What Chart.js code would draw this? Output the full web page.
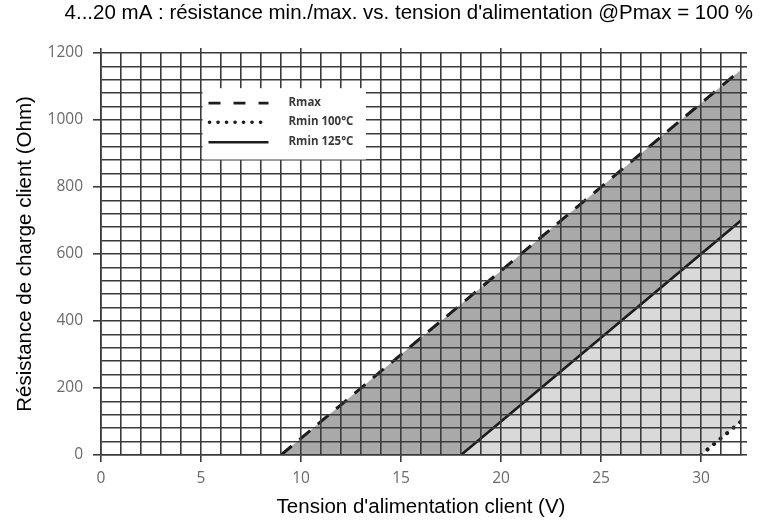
<!DOCTYPE html>
<html>
<head>
<meta charset="utf-8">
<script src="https://cdn.jsdelivr.net/npm/chart.js@4/dist/chart.umd.min.js"></script>
<style>
  html, body { margin: 0; padding: 0; background: #fff; }
  #wrap { width: 760px; height: 522px; }
</style>
</head>
<body>
<div id="wrap"><canvas id="myChart" width="760" height="522"></canvas></div>
<script>
'use strict';
// values
let rmaxVolts = [9, 32];
let rmaxOhms = [0, 1150];
let rmin125Volts = [18, 32];
let rmin125Ohms = [0, 700];
let rmin100Volts = [30, 32];
let rmin100Ohms = [0, 100];
let legendNames = ['Rmax', 'Rmin 100°C', 'Rmin 125°C'];

let titleText = "4...20 mA : résistance min./max. vs. tension d'alimentation @Pmax = 100 %";
let xTitle = "Tension d'alimentation client (V)";
let yTitle = 'Résistance de charge client (Ohm)';

let gridColor = '#3b3b3b';
let lineColor = '#1c1c1c';
let darkFill = '#a9a9a9';
let lightFill = '#d9d9d9';

function toPoints(xs, ys) {
    let pts = [];
    for (let i = 0; i < xs.length; i++) {
        pts.push({ x: xs[i], y: ys[i] });
    }
    return pts;
}

// lower edges of the grey bands (lines cut at 0 Ohm)
let lower125 = [{ x: rmaxVolts[0], y: 0 }].concat(toPoints(rmin125Volts, rmin125Ohms));
let lower100 = [{ x: rmin125Volts[0], y: 0 }].concat(toPoints(rmin100Volts, rmin100Ohms));

let majorTick = function (c) {
    return c.tick && c.tick.value % 5 === 0 ? gridColor : 'rgba(0,0,0,0)';
};
let majorTickY = function (c) {
    return c.tick && c.tick.value % 200 === 0 ? gridColor : 'rgba(0,0,0,0)';
};

let boxLegend = {
    id: 'boxLegend',
    afterDraw(chart) {
        let ctx = chart.ctx;
        let x = chart.scales.x;
        let y = chart.scales.y;
        let left = x.getPixelForValue(5) + 1.5;
        let right = x.getPixelForValue(13.25);
        let top = y.getPixelForValue(1095);
        let bottom = y.getPixelForValue(882);
        ctx.save();
        ctx.fillStyle = '#ffffff';
        ctx.fillRect(left, top, right - left, bottom - top);

        let rows = [top + 15, top + 34, top + 54];
        let x1 = left + 6;
        let x2 = left + 66;
        ctx.strokeStyle = lineColor;

        // Rmax dashed
        ctx.lineWidth = 2.8;
        ctx.setLineDash([12, 13]);
        ctx.beginPath(); ctx.moveTo(x1, rows[0]); ctx.lineTo(x2, rows[0]); ctx.stroke();
        // Rmin 100 dotted
        ctx.lineWidth = 3.6;
        ctx.lineCap = 'round';
        ctx.setLineDash([0.1, 8.4]);
        ctx.beginPath(); ctx.moveTo(x1 + 1, rows[1]); ctx.lineTo(x2, rows[1]); ctx.stroke();
        // Rmin 125 solid
        ctx.lineCap = 'butt';
        ctx.lineWidth = 2.6;
        ctx.setLineDash([]);
        ctx.beginPath(); ctx.moveTo(x1, rows[2]); ctx.lineTo(x2, rows[2]); ctx.stroke();

        ctx.fillStyle = '#3a3a3a';
        ctx.font = '700 11.5px "Open Sans"';
        ctx.textBaseline = 'middle';
        ctx.textAlign = 'left';
        for (let i = 0; i < legendNames.length; i++) {
            ctx.fillText(legendNames[i], left + 86, rows[i]);
        }
        ctx.restore();
    }
};

let ctx = document.getElementById('myChart').getContext('2d');
let myChart = new Chart(ctx, {
    type: 'scatter',
    data: {
        datasets: [{
            label: 'Rmax',
            data: toPoints(rmaxVolts, rmaxOhms),
            showLine: true,
            borderColor: lineColor,
            borderWidth: 3,
            borderDash: [14, 10],
            backgroundColor: darkFill,
            fill: 1,
            pointRadius: 0
        }, {
            label: 'lower125',
            data: lower125,
            showLine: true,
            borderWidth: 0,
            borderColor: 'rgba(0,0,0,0)',
            fill: false,
            pointRadius: 0
        }, {
            label: 'Rmin 125°C',
            data: toPoints(rmin125Volts, rmin125Ohms),
            showLine: true,
            borderColor: lineColor,
            borderWidth: 2.6,
            backgroundColor: lightFill,
            fill: 3,
            pointRadius: 0
        }, {
            label: 'lower100',
            data: lower100,
            showLine: true,
            borderWidth: 0,
            borderColor: 'rgba(0,0,0,0)',
            fill: false,
            pointRadius: 0
        }, {
            label: 'Rmin 100°C',
            data: toPoints(rmin100Volts, rmin100Ohms),
            showLine: true,
            borderColor: lineColor,
            borderWidth: 4,
            borderDash: [0.1, 8.4],
            borderCapStyle: 'round',
            fill: false,
            pointRadius: 0
        }]
    },
    options: {
        responsive: false,
        animation: false,
        events: [],
        layout: { padding: { left: 0, right: 7, top: 0, bottom: 0 } },
        plugins: {
            legend: { display: false },
            tooltip: { enabled: false },
            filler: { drawTime: 'beforeDatasetsDraw' },
            title: {
                display: true,
                text: titleText,
                align: 'end',
                color: '#000',
                font: { family: '"Liberation Sans", Arial, sans-serif', size: 20.5, weight: 'normal' },
                padding: { top: 1.5, bottom: 21.9 }
            }
        },
        scales: {
            x: {
                type: 'linear',
                position: 'bottom',
                min: 0,
                max: 32,
                afterFit(s) { s.height = 67; },
                ticks: {
                    stepSize: 1,
                    autoSkip: false,
                    maxRotation: 0,
                    padding: 7,
                    color: '#6a6a6a',
                    font: { family: '"Open Sans"', size: 15.5 },
                    callback: function (v) { return v % 5 === 0 ? v : ''; }
                },
                grid: { z: 1, color: gridColor, lineWidth: 1.6, tickLength: 7, tickColor: majorTick },
                border: { z: 1, color: gridColor, width: 1.6 },
                title: {
                    display: true,
                    text: xTitle,
                    color: '#000',
                    font: { family: '"Liberation Sans", Arial, sans-serif', size: 20.5 },
                    padding: { top: 0, bottom: 2 }
                }
            },
            xTop: {
                type: 'linear',
                position: 'top',
                min: 0,
                max: 32,
                ticks: { display: false, stepSize: 1, autoSkip: false },
                grid: { drawOnChartArea: false, lineWidth: 1.6, tickLength: 5, tickColor: majorTick },
                border: { display: false }
            },
            y: {
                type: 'linear',
                min: 0,
                max: 1200,
                afterFit(s) { s.width = 101; },
                ticks: {
                    stepSize: 40,
                    autoSkip: false,
                    padding: 10,
                    color: '#6a6a6a',
                    font: { family: '"Open Sans"', size: 15.5 },
                    callback: function (v) { return v % 200 === 0 ? v : ''; }
                },
                grid: { z: 1, color: gridColor, lineWidth: 1.6, tickLength: 8, tickColor: majorTickY },
                border: { z: 1, color: gridColor, width: 1.6 },
                title: {
                    display: true,
                    text: yTitle,
                    color: '#000',
                    font: { family: '"Liberation Sans", Arial, sans-serif', size: 20.5 },
                    padding: { top: 13, bottom: 0 }
                }
            },
            yRight: {
                type: 'linear',
                position: 'right',
                min: 0,
                max: 1200,
                afterFit(s) { s.width = 12; },
                ticks: { display: false, stepSize: 40, autoSkip: false },
                grid: { drawOnChartArea: false, lineWidth: 1.6, tickLength: 6, tickColor: gridColor },
                border: { display: false }
            }
        }
    },
    plugins: [boxLegend]
});
</script>
</body>
</html>
